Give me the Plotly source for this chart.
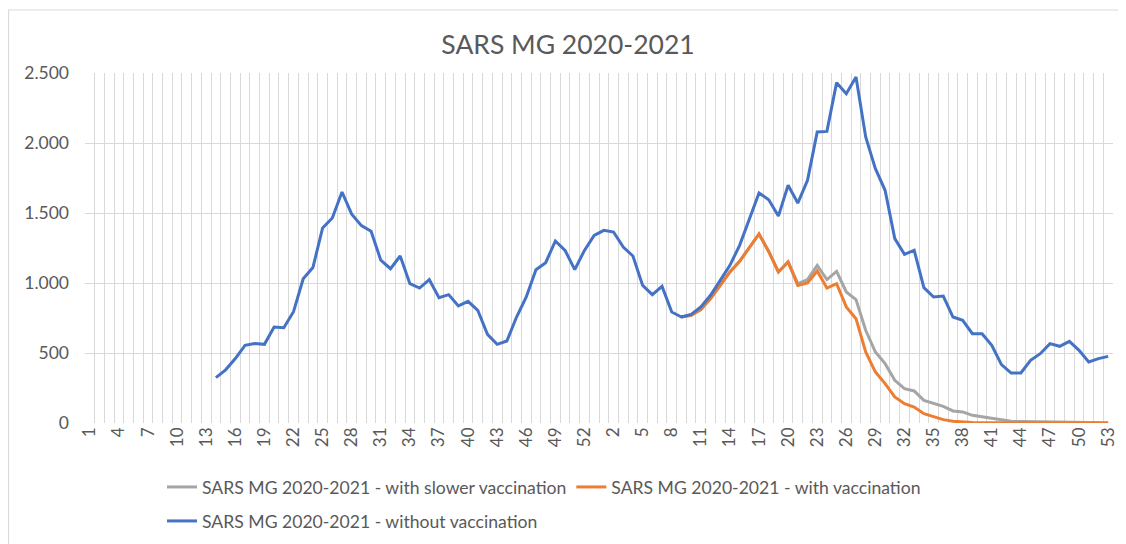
import plotly.graph_objects as go

# Week labels (2020: 1..53, 2021: 1..53)
weeks_2020 = list(range(1, 54))
weeks_2021 = list(range(1, 54))
week_labels = [str(w) for w in weeks_2020] + [str(w) for w in weeks_2021]

# Without vaccination: 2020 weeks 14..53, then 2021 weeks 1..53
blue_2020_start_week = 14
blue_2020 = [324, 380, 460, 555, 567, 562, 686, 681, 795, 1030,
             1110, 1393, 1464, 1650, 1492, 1410, 1370, 1163, 1102, 1193,
             995, 964, 1024, 895, 917, 836, 869, 805, 633, 562,
             586, 757, 900, 1095, 1145, 1300, 1233, 1095, 1233, 1340]
blue_2021 = [1376, 1364, 1257, 1193, 983, 917, 976, 793, 757, 776,
             829, 912, 1019, 1126, 1269, 1460, 1643, 1595, 1478, 1698,
             1571, 1733, 2079, 2083, 2431, 2352, 2471, 2043, 1817, 1662,
             1317, 1205, 1233, 967, 900, 907, 757, 733, 638, 638,
             555, 417, 357, 357, 448, 495, 567, 548, 583, 519,
             436, 460, 476]

# Scenarios start diverging at 2021 week 9
scen_start_week_2021 = 9
orange_2021 = [757, 769, 810, 888, 983, 1079, 1155, 1250, 1350, 1225,
               1079, 1150, 983, 1000, 1086, 964, 995, 829, 745, 507,
               364, 281, 186, 138, 114, 67, 43, 24, 12, 5,
               3, 2, 1, 1, 1, 0, 0, 0, 0, 0,
               0, 0, 0, 0, 0]
gray_2021 = [757, 769, 810, 888, 983, 1079, 1155, 1250, 1350, 1225,
             1079, 1150, 995, 1024, 1126, 1024, 1083, 936, 881, 662,
             507, 424, 305, 245, 229, 162, 138, 119, 86, 79,
             55, 43, 36, 19, 12, 10, 9, 8, 8, 6,
             4, 3, 2, 2, 1]

n20 = len(weeks_2020)
n = len(week_labels)
x = list(range(n))

def pad(values, start_index):
    out = [None] * n
    for i, v in enumerate(values):
        out[start_index + i] = v
    return out

blue = pad(blue_2020, blue_2020_start_week - 1)
for i, v in enumerate(blue_2021):
    blue[n20 + i] = v
orange = pad(orange_2021, n20 + scen_start_week_2021 - 1)
gray = pad(gray_2021, n20 + scen_start_week_2021 - 1)

FONT = "Lato"
TXT = "#595959"
W, H = 1126, 544
OFF = 8  # page body margin
L, R, T, B = 85 - OFF, 13 + OFF, 73 - OFF, 121 + OFF
PW, PH = W - L - R, H - T - B

fig = go.Figure()
fig.add_trace(go.Scatter(x=x, y=gray, mode="lines", name="SARS MG 2020-2021 - with slower vaccination",
                         line=dict(color="#A5A5A5", width=3), legend="legend"))
fig.add_trace(go.Scatter(x=x, y=orange, mode="lines", name="SARS MG 2020-2021 - with vaccination",
                         line=dict(color="#ED7D31", width=3), legend="legend"))
fig.add_trace(go.Scatter(x=x, y=blue, mode="lines", name="SARS MG 2020-2021 - without vaccination",
                         line=dict(color="#4472C4", width=3), legend="legend2"))

tickvals = list(range(0, n, 3))
ticktext = [week_labels[i] for i in tickvals]

fig.update_layout(
    width=W, height=H,
    margin=dict(l=L, r=R, t=T, b=B, autoexpand=False),
    paper_bgcolor="white", plot_bgcolor="white",
    separators=",.",
    font=dict(family=FONT, color=TXT, size=14),
    title=dict(text="SARS MG 2020-2021", x=(568 - OFF) / W, xref="container", xanchor="center",
               y=1 - (45 - OFF) / H, yref="container", yanchor="middle",
               font=dict(family=FONT, size=26.5, color=TXT)),
    xaxis=dict(range=[-0.5, n - 0.5], tickmode="array", tickvals=tickvals, ticktext=ticktext,
               tickangle=-90, showgrid=False, zeroline=False, showline=False, ticks="",
               automargin=False, tickfont=dict(size=17, color=TXT),
               minor=dict(tickmode="linear", tick0=-0.5, dtick=1, showgrid=True,
                          gridcolor="#D9D9D9", gridwidth=1.3)),
    yaxis=dict(range=[0, 2500], tickmode="linear", tick0=0, dtick=500, tickformat=",d",
               showgrid=True, gridcolor="#D9D9D9", gridwidth=1.3, zeroline=False,
               showline=False, ticks="", ticklabelstandoff=15, automargin=False,
               tickfont=dict(size=17.5, color=TXT)),
    legend=dict(orientation="h", x=(162 - L - OFF) / PW, y=1 - (487 - OFF) / H,
                xref="paper", yref="container", xanchor="left", yanchor="middle",
                font=dict(family=FONT, size=17.6, color=TXT), traceorder="normal"),
    legend2=dict(orientation="h", x=(162 - L - OFF) / PW, y=1 - (521 - OFF) / H,
                 xref="paper", yref="container", xanchor="left", yanchor="middle",
                 font=dict(family=FONT, size=17.6, color=TXT)),
    showlegend=True,
    shapes=[dict(type="rect", xref="paper", yref="paper",
                 x0=(0.5 - L) / PW, x1=(1140 - L) / PW,
                 y0=(H - B - 560) / PH, y1=(H - B - 2) / PH,
                 line=dict(color="#D9D9D9", width=1.2), fillcolor="rgba(0,0,0,0)", layer="below")],
)

fig.write_html("out.html")
